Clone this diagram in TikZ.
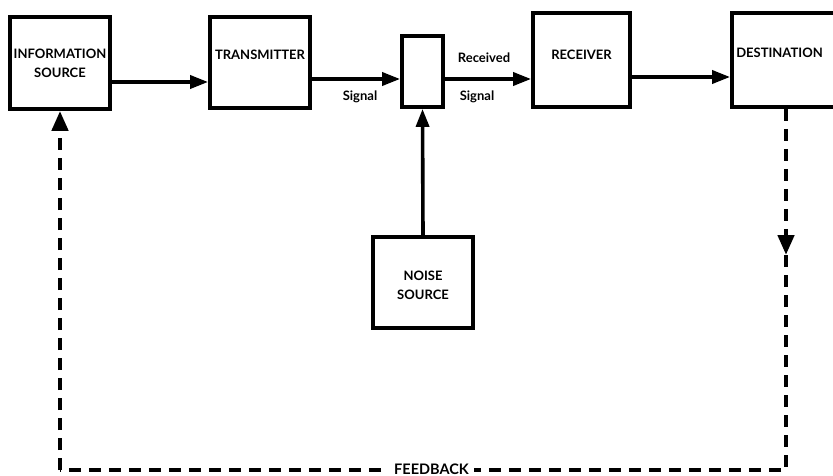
\documentclass[tikz,border=0pt]{standalone}
\usepackage{fontspec}
\setmainfont{Lato}
\usetikzlibrary{arrows.meta,calc}
\begin{document}
\begin{tikzpicture}[x=1pt,y=-1pt,
  box/.style={draw,line width=3.8pt,inner sep=0pt},
  lbl/.style={font=\fontsize{13}{19}\selectfont\bfseries,align=center,inner sep=0pt},
  sig/.style={font=\fontsize{13}{15}\selectfont\bfseries,inner sep=0pt},
  arr/.style={line width=3.6pt,-{Triangle[length=18pt,width=13pt]}},
  fb/.style={line width=4.5pt,dash pattern=on 12pt off 8pt},
  fbarr/.style={fb,-{Triangle[length=20pt,width=16pt]}}]
\useasboundingbox (0,0) rectangle (833,476);
\clip (0,0) rectangle (833,476);
% boxes
\node[box,minimum width=100pt,minimum height=92pt] (info) at (60,63) {};
\node[box,minimum width=100pt,minimum height=91pt] (trans) at (260,62.5) {};
\node[box,minimum width=41pt,minimum height=71pt] (mix) at (422.5,71.5) {};
\node[box,minimum width=97pt,minimum height=94pt] (recv) at (581.5,60) {};
\node[box,minimum width=108pt,minimum height=94pt] (dest) at (786,60) {};
\node[box,minimum width=100pt,minimum height=91pt] (noise) at (423,282.5) {};
% box texts
\node[lbl] (tinfo) at (60,63) {INFORMATION\\SOURCE};
\node[lbl] (ttrans) at (260,55) {TRANSMITTER};
\node[lbl] (trecv) at (581.5,55) {RECEIVER};
\node[lbl] (tdest) at (779.5,53) {DESTINATION};
\node[lbl] (tnoise) at (423,285) {NOISE\\SOURCE};
% forward arrows
\draw[arr] ($(info.east)+(0,19)$) -- ($(trans.west)+(0,19.5)$);
\draw[arr] ($(trans.east)+(0,16.5)$) -- ($(mix.west)+(0,7.5)$);
\draw[arr] ($(mix.east)+(0,7.5)$) -- ($(recv.west)+(0,19)$);
\draw[arr] ($(recv.east)+(0,17)$) -- ($(dest.west)+(0,17)$);
\draw[arr] (noise.north) -- (mix.south);
% signal labels
\node[sig] (s1) at (360,97) {Signal};
\node[sig] (s2) at (484,58) {Received};
\node[sig] (s3) at (477,97) {Signal};
% feedback
\coordinate (fbmid) at (786,255);
\coordinate (fbR) at (786,470);
\coordinate (fbL) at (60,470);
\draw[fbarr] (dest.south) -- (fbmid);
\draw[fb] (fbmid) -- (fbR) -- (fbL);
\draw[fbarr] (fbL) -- (info.south);
\node[lbl,fill=white,inner xsep=5pt,inner ysep=2pt,font=\fontsize{14.5}{16}\selectfont\bfseries] (tfb) at (431.5,469) {FEEDBACK};
\end{tikzpicture}
\end{document}
